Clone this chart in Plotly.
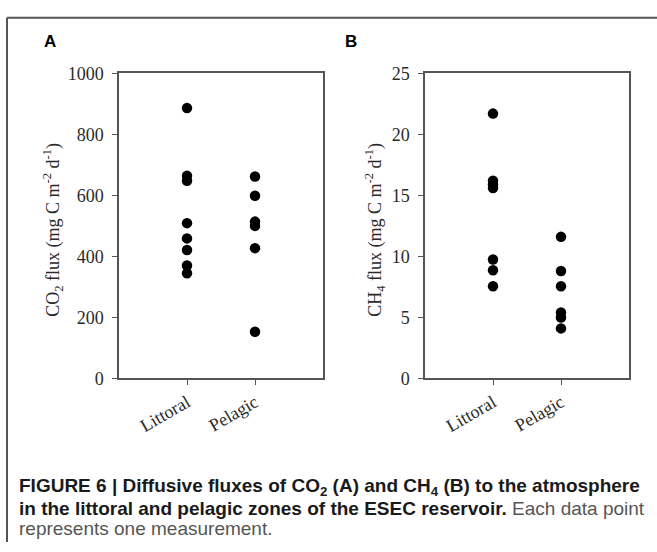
import plotly.graph_objects as go

categories = ["Littoral", "Pelagic"]
co2_littoral = [886, 664, 648, 509, 459, 421, 370, 345]
co2_pelagic = [662, 599, 514, 500, 427, 153]
ch4_littoral = [21.7, 16.2, 15.9, 15.6, 9.75, 8.87, 7.55]
ch4_pelagic = [11.6, 8.8, 7.55, 5.4, 5.0, 4.1]
co2_ticks = [0, 200, 400, 600, 800, 1000]
ch4_ticks = [0, 5, 10, 15, 20, 25]

W, H = 657, 552
fig = go.Figure()

mk = dict(color="black", size=10.5, line=dict(width=0))
fig.add_trace(go.Scatter(x=[categories[0]] * len(co2_littoral), y=co2_littoral, mode="markers",
                         marker=mk, xaxis="x", yaxis="y", showlegend=False))
fig.add_trace(go.Scatter(x=[categories[1]] * len(co2_pelagic), y=co2_pelagic, mode="markers",
                         marker=mk, xaxis="x", yaxis="y", showlegend=False))
fig.add_trace(go.Scatter(x=[categories[0]] * len(ch4_littoral), y=ch4_littoral, mode="markers",
                         marker=mk, xaxis="x2", yaxis="y2", showlegend=False))
fig.add_trace(go.Scatter(x=[categories[1]] * len(ch4_pelagic), y=ch4_pelagic, mode="markers",
                         marker=mk, xaxis="x2", yaxis="y2", showlegend=False))

axcol = "#555555"
tickfont = dict(family="Liberation Serif", size=18, color="#2a2a2a")
ydom = [1 - 382.3 / H, 1 - 65.7 / H]

def xax(dom, anchor):
    return dict(domain=dom, anchor=anchor, type="category", categoryorder="array",
                categoryarray=categories, range=[-1, 2], showgrid=False, zeroline=False,
                showline=True, linecolor=axcol, linewidth=1.5, mirror=True,
                ticks="outside", ticklen=5, tickwidth=1.2, tickcolor=axcol,
                tickangle=-30, tickfont=tickfont)

def yax(anchor, rng, tv):
    return dict(domain=ydom, anchor=anchor, range=rng, tickvals=tv, showgrid=False,
                zeroline=False, showline=True, linecolor=axcol, linewidth=1.5, mirror=True,
                ticks="outside", ticklen=5, tickwidth=1.2, tickcolor=axcol, tickfont=tickfont,
                ticklabelstandoff=5)

fig.update_layout(
    width=W, height=H, margin=dict(l=0, r=0, t=0, b=0),
    paper_bgcolor="white", plot_bgcolor="white",
    xaxis=xax([119 / W, 323 / W], "y"),
    yaxis=yax("x", [0, 1000], co2_ticks),
    xaxis2=xax([425 / W, 629 / W], "y2"),
    yaxis2=yax("x2", [0, 25], ch4_ticks),
)

titlefont = dict(family="Liberation Serif", size=18, color="#2a2a2a")
fig.add_annotation(x=53 / W, y=1 - 228 / H, xref="paper", yref="paper", textangle=-90,
                   text="CO<sub>2</sub> flux (mg C m<sup>-2</sup> d<sup>-1</sup>)",
                   showarrow=False, font=titlefont, xanchor="center", yanchor="middle")
fig.add_annotation(x=375 / W, y=1 - 228 / H, xref="paper", yref="paper", textangle=-90,
                   text="CH<sub>4</sub> flux (mg C m<sup>-2</sup> d<sup>-1</sup>)",
                   showarrow=False, font=titlefont, xanchor="center", yanchor="middle")

lab = dict(family="Liberation Sans", size=17, color="black")
fig.add_annotation(x=50 / W, y=1 - 33 / H, xref="paper", yref="paper", text="<b>A</b>",
                   showarrow=False, font=lab, xanchor="center", yanchor="middle")
fig.add_annotation(x=351 / W, y=1 - 33 / H, xref="paper", yref="paper", text="<b>B</b>",
                   showarrow=False, font=lab, xanchor="center", yanchor="middle")

capfont = dict(family="Liberation Sans", size=19, color="#1a1a1a")
lines = [
    "<b>FIGURE 6 | Diffusive fluxes of CO<sub>2</sub> (A) and CH<sub>4</sub> (B) to the atmosphere</b>",
    "<b>in the littoral and pelagic zones of the ESEC reservoir.</b> <span style='color:#555555'>Each data point</span>",
    "<span style='color:#555555'>represents one measurement.</span>",
]
for t, yy in zip(lines, [495, 517, 538]):
    fig.add_annotation(x=17 / W, y=1 - yy / H, xref="paper", yref="paper", text=t,
                       showarrow=False, font=capfont, xanchor="left", yanchor="middle", align="left")

# outer frame (top and left edges)
fig.add_shape(type="line", xref="paper", yref="paper", x0=7 / W, x1=1, y0=1 - 8 / H, y1=1 - 8 / H,
              line=dict(color="#555555", width=2))
fig.add_shape(type="line", xref="paper", yref="paper", x0=7 / W, x1=7 / W, y0=1 - 8 / H, y1=0,
              line=dict(color="#555555", width=2))

fig.write_html("out.html", config={"displayModeBar": False},
               post_script="document.body.style.margin='0';document.body.style.overflow='hidden';")
